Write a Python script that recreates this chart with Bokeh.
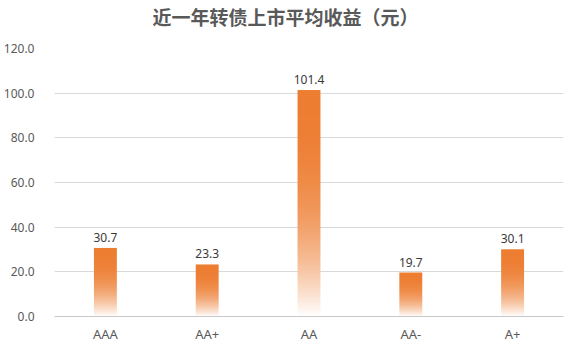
import numpy as np
from bokeh.plotting import figure
from bokeh.models import ColumnDataSource, FactorRange, FixedTicker, PrintfTickFormatter, Title
from bokeh.core.properties import value
from bokeh.embed import file_html
from bokeh.resources import INLINE

# Ratings and average first-day listing gain (yuan)
ratings = ["AAA", "AA+", "AA", "AA-", "A+"]
avg_gain = [30.7, 23.3, 101.4, 19.7, 30.1]
y_ticks = [0, 20, 40, 60, 80, 100, 120]

TITLE = "近一年转债上市平均收益（元）"
ORANGE = (237, 125, 49)
BAR_W = 0.225
ROWS = 256


def gradient_image():
    """Vertical fade: white at the baseline, solid orange at the top."""
    img = np.empty((ROWS, 1), dtype=np.uint32)
    view = img.view(dtype=np.uint8).reshape((ROWS, 1, 4))
    for r in range(ROWS):
        s = 1 - (r + 0.5) / ROWS  # 0 at top row, 1 at bottom row
        a = max(0.0, 1 - s ** 2.5)
        view[r, 0, :3] = [round(c * a + 255 * (1 - a)) for c in ORANGE]
        view[r, 0, 3] = 255
    return img


grad = gradient_image()
# numeric positions of the categories on the factor range (centres at i + 0.5)
centers = [i + 0.5 for i in range(len(ratings))]

bars = ColumnDataSource(dict(
    image=[grad] * len(ratings),
    x=[c - BAR_W / 2 for c in centers],
    y=[0] * len(ratings),
    dw=[BAR_W] * len(ratings),
    dh=avg_gain,
))
labels = ColumnDataSource(dict(x=ratings, y=avg_gain, text=["%.1f" % v for v in avg_gain]))

p = figure(
    width=575, height=351,
    x_range=FactorRange(*ratings, range_padding=0),
    y_range=(0, 120),
    output_backend="svg", toolbar_location=None,
    min_border_left=51, min_border_right=12, min_border_top=48, min_border_bottom=35,
    background_fill_color="white", border_fill_color="white",
)
p.outline_line_color = None

# blank strip between the title and the plotting frame
p.add_layout(Title(text=" ", text_font_size="10px", standoff=6), "above")

p.title.text = TITLE
p.title.text_font = "Noto Sans CJK SC"
p.title.text_font_size = "19px"
p.title.text_font_style = "bold"
p.title.text_color = "#595959"
p.title.align = "left"
p.title.offset = 98
p.title.standoff = 0

p.image_rgba(image="image", x="x", y="y", dw="dw", dh="dh", source=bars)

p.text(x="x", y="y", text="text", source=labels, y_offset=-6,
       text_align="center", text_baseline="bottom",
       text_font=value("Noto Sans"), text_font_size="12px", text_color="#3a3a3a")

# Axes
p.yaxis.ticker = FixedTicker(ticks=y_ticks)
p.yaxis.formatter = PrintfTickFormatter(format="%.1f")
p.yaxis.axis_line_color = None
p.yaxis.major_tick_line_color = None
p.yaxis.minor_tick_line_color = None
p.yaxis.major_label_standoff = 14
p.yaxis.major_label_text_font = "Noto Sans"
p.yaxis.major_label_text_font_size = "12px"
p.yaxis.major_label_text_color = "#595959"

p.xaxis.axis_line_color = "#C8C8C8"
p.xaxis.major_tick_line_color = None
p.xaxis.minor_tick_line_color = None
p.xaxis.major_tick_out = 0
p.xaxis.major_label_standoff = 8
p.xaxis.major_label_text_font = "Noto Sans"
p.xaxis.major_label_text_font_size = "13px"
p.xaxis.major_label_text_color = "#595959"

p.xgrid.grid_line_color = None
p.ygrid.grid_line_color = "#D9D9D9"

open("out.html", "w").write(file_html(p, INLINE))
